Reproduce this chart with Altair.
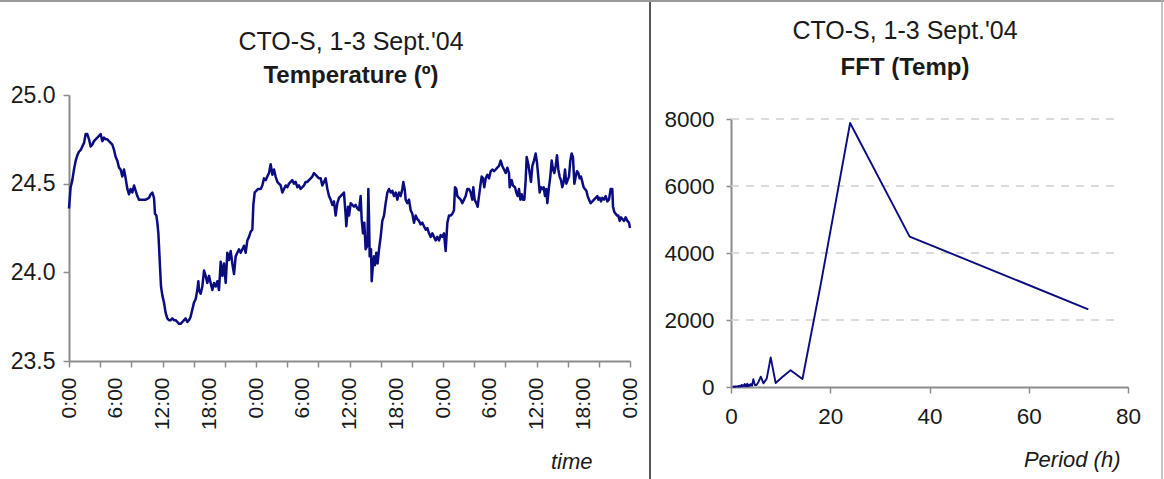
import altair as alt
import pandas as pd

# ---------------- data ----------------
# Temperature record, CTO-S 1-3 Sept 2004: (hours since 0:00 on day 1, temperature degC)
temperature_series = [
    (0.00, 24.36), (0.21, 24.48), (0.43, 24.52), (0.64, 24.58), (0.86, 24.63), (1.07, 24.66),
    (1.28, 24.68), (1.50, 24.69), (1.71, 24.71), (1.93, 24.73), (2.14, 24.78), (2.35, 24.78),
    (2.57, 24.75), (2.78, 24.71), (2.99, 24.72), (3.21, 24.74), (3.42, 24.75), (3.64, 24.76),
    (3.85, 24.77), (4.06, 24.78), (4.28, 24.74), (4.49, 24.76), (4.71, 24.75), (4.92, 24.75),
    (5.13, 24.74), (5.35, 24.73), (5.56, 24.72), (5.78, 24.69), (5.99, 24.65), (6.20, 24.63),
    (6.42, 24.59), (6.63, 24.58), (6.84, 24.54), (7.06, 24.58), (7.27, 24.53), (7.49, 24.47),
    (7.70, 24.44), (7.91, 24.47), (8.13, 24.45), (8.34, 24.49), (8.56, 24.46), (8.77, 24.43),
    (8.98, 24.41), (9.41, 24.41), (9.84, 24.41), (10.27, 24.42), (10.48, 24.44), (10.70, 24.45),
    (10.91, 24.42), (11.04, 24.33), (11.21, 24.32), (11.34, 24.28), (11.47, 24.22), (11.55, 24.15),
    (11.68, 24.03), (11.81, 23.92), (11.98, 23.87), (12.19, 23.83), (12.41, 23.77), (12.62, 23.74),
    (12.83, 23.73), (13.05, 23.73), (13.26, 23.74), (13.48, 23.73), (13.69, 23.73), (13.90, 23.72),
    (14.12, 23.71), (14.33, 23.71), (14.55, 23.72), (14.76, 23.73), (14.97, 23.74), (15.19, 23.72),
    (15.40, 23.73), (15.61, 23.75), (15.83, 23.79), (16.04, 23.83), (16.26, 23.85), (16.47, 23.90),
    (16.60, 23.95), (16.68, 23.90), (16.90, 23.88), (17.11, 23.92), (17.33, 24.01), (17.54, 23.98),
    (17.75, 23.94), (17.97, 23.98), (18.18, 23.94), (18.40, 23.90), (18.61, 23.94), (18.82, 23.92),
    (19.04, 23.95), (19.25, 23.90), (19.47, 24.06), (19.68, 23.98), (19.89, 24.05), (20.11, 23.94),
    (20.32, 24.11), (20.53, 24.07), (20.75, 24.12), (20.96, 24.05), (21.18, 23.99), (21.39, 24.09),
    (21.60, 24.11), (21.82, 24.13), (22.03, 24.11), (22.25, 24.13), (22.46, 24.15), (22.67, 24.11),
    (22.89, 24.18), (23.10, 24.20), (23.32, 24.23), (23.53, 24.24), (23.66, 24.38), (23.83, 24.45),
    (24.04, 24.46), (24.26, 24.47),
    (24.39, 24.47), (24.60, 24.47), (24.81, 24.49), (25.03, 24.53), (25.24, 24.52), (25.45, 24.54),
    (25.67, 24.56), (25.88, 24.61), (26.10, 24.55), (26.31, 24.58), (26.52, 24.54), (26.74, 24.51),
    (26.95, 24.50), (27.17, 24.49), (27.38, 24.45), (27.59, 24.47), (27.81, 24.49), (28.02, 24.48),
    (28.24, 24.50), (28.45, 24.51), (28.66, 24.52), (28.88, 24.50), (29.09, 24.51), (29.30, 24.48),
    (29.52, 24.49), (29.73, 24.47), (29.95, 24.48), (30.16, 24.49), (30.37, 24.51), (30.59, 24.51),
    (30.80, 24.52), (31.02, 24.53), (31.23, 24.54), (31.44, 24.56), (31.66, 24.55), (31.87, 24.54),
    (32.09, 24.53), (32.30, 24.53), (32.51, 24.49), (32.73, 24.51), (32.94, 24.53), (33.16, 24.47),
    (33.37, 24.43), (33.58, 24.41), (33.80, 24.38), (34.01, 24.40), (34.22, 24.32), (34.44, 24.39),
    (34.65, 24.42), (34.87, 24.43), (35.08, 24.44), (35.29, 24.45), (35.51, 24.32), (35.59, 24.26),
    (35.81, 24.37), (35.94, 24.32), (36.15, 24.39), (36.36, 24.38), (36.58, 24.37), (36.79, 24.38),
    (37.01, 24.36), (37.22, 24.35), (37.43, 24.43), (37.56, 24.30), (37.73, 24.22), (37.90, 24.28),
    (38.07, 24.13), (38.29, 24.15), (38.42, 24.47), (38.50, 24.32), (38.59, 24.09), (38.76, 24.13),
    (38.85, 23.95), (39.02, 24.05), (39.14, 24.09), (39.27, 24.04), (39.44, 24.11), (39.61, 24.05),
    (39.79, 24.13), (40.00, 24.20), (40.21, 24.29), (40.43, 24.32), (40.64, 24.39), (40.86, 24.45),
    (41.07, 24.47), (41.28, 24.45), (41.50, 24.46), (41.71, 24.43), (41.93, 24.45), (42.14, 24.41),
    (42.35, 24.45), (42.57, 24.43), (42.78, 24.47), (42.91, 24.51), (43.08, 24.47), (43.21, 24.41),
    (43.42, 24.39), (43.64, 24.41), (43.85, 24.35), (44.06, 24.33), (44.28, 24.28), (44.49, 24.32),
    (44.71, 24.30), (44.92, 24.29), (45.13, 24.27), (45.35, 24.28), (45.56, 24.26), (45.78, 24.24),
    (45.99, 24.25), (46.20, 24.22), (46.42, 24.20), (46.63, 24.22), (46.84, 24.20), (47.06, 24.18),
    (47.27, 24.20), (47.49, 24.18), (47.70, 24.21), (47.91, 24.20), (48.13, 24.22), (48.34, 24.12),
    (48.56, 24.28), (48.77, 24.32),
    (48.98, 24.32), (49.20, 24.33), (49.41, 24.35), (49.54, 24.48), (49.71, 24.47), (49.84, 24.43),
    (50.05, 24.42), (50.27, 24.41), (50.48, 24.39), (50.70, 24.41), (50.91, 24.43), (51.12, 24.47),
    (51.34, 24.47), (51.55, 24.45), (51.76, 24.41), (51.89, 24.48), (52.06, 24.41), (52.28, 24.39),
    (52.45, 24.37), (52.62, 24.43), (52.83, 24.50), (52.96, 24.54), (53.13, 24.53), (53.30, 24.48),
    (53.48, 24.53), (53.69, 24.55), (53.90, 24.53), (54.12, 24.57), (54.33, 24.58), (54.55, 24.57),
    (54.76, 24.58), (54.97, 24.59), (55.19, 24.60), (55.40, 24.63), (55.61, 24.60), (55.83, 24.58),
    (56.04, 24.56), (56.26, 24.59), (56.47, 24.56), (56.56, 24.48), (56.81, 24.52), (56.98, 24.49),
    (57.24, 24.48), (57.41, 24.45), (57.58, 24.43), (57.75, 24.47), (57.93, 24.41), (58.10, 24.44),
    (58.27, 24.41), (58.44, 24.41), (58.61, 24.52), (58.74, 24.65), (58.95, 24.61), (59.12, 24.56),
    (59.29, 24.51), (59.47, 24.60), (59.68, 24.63), (59.89, 24.67), (60.06, 24.62), (60.23, 24.54),
    (60.41, 24.45), (60.58, 24.48), (60.75, 24.47), (60.92, 24.48), (61.09, 24.43), (61.26, 24.47),
    (61.39, 24.39), (61.60, 24.48), (61.77, 24.54), (61.95, 24.63), (62.12, 24.58), (62.29, 24.56),
    (62.46, 24.60), (62.63, 24.66), (62.80, 24.58), (62.97, 24.54), (63.14, 24.52), (63.31, 24.48),
    (63.49, 24.51), (63.66, 24.58), (63.83, 24.50), (64.00, 24.52), (64.17, 24.54), (64.34, 24.63),
    (64.51, 24.67), (64.68, 24.65), (64.86, 24.50), (65.03, 24.54), (65.20, 24.57), (65.37, 24.56),
    (65.54, 24.53), (65.71, 24.54), (65.88, 24.51), (66.05, 24.48), (66.22, 24.47), (66.40, 24.46),
    (66.57, 24.43), (66.74, 24.41), (66.95, 24.39), (67.17, 24.40), (67.38, 24.41), (67.59, 24.42),
    (67.81, 24.43), (67.93, 24.41), (68.11, 24.42), (68.28, 24.40), (68.45, 24.42), (68.66, 24.41),
    (68.88, 24.43), (69.09, 24.40), (69.30, 24.41), (69.52, 24.47), (69.73, 24.47), (69.82, 24.37),
    (69.99, 24.34), (70.16, 24.33), (70.33, 24.32), (70.50, 24.32), (70.68, 24.29), (70.85, 24.31),
    (71.02, 24.30), (71.23, 24.29), (71.44, 24.31), (71.66, 24.29), (71.87, 24.28), (72.00, 24.25),
]
temp_hours = [h for h, _ in temperature_series]
temp_values = [t for _, t in temperature_series]

# FFT of the temperature record: period (h) and amplitude
fft_period = [72, 36, 24, 18, 14.4, 12, 10.29, 9, 8, 7.2, 6.55, 6, 5.54, 5.14, 4.8, 4.5,
              4.24, 4.0, 3.79, 3.6, 3.43, 3.27, 3.13, 3.0, 2.88, 2.77, 2.57, 2.4, 2.25,
              2.12, 2.0, 1.8, 1.6, 1.44, 1.2, 1.0, 0.8, 0.6, 0.4, 0.33]
fft_amp = [2320, 4490, 7880, 3000, 240, 500, 290, 120, 885, 250, 110, 310, 150, 60, 60, 230,
           40, 90, 30, 70, 20, 100, 30, 60, 20, 90, 30, 50, 20,
           60, 15, 40, 10, 30, 10, 20, 5, 15, 5, 0]

# axis tick / label values
time_tick_values = [0, 4, 6, 8, 12, 16, 18, 20, 24, 28, 30, 32, 36, 40, 42, 44, 48,
                    52, 54, 56, 60, 64, 66, 68, 72]
temp_tick_values = [23.5, 24.0, 24.5, 25.0]
fft_y_tick_values = [0, 2000, 4000, 6000, 8000]
fft_x_tick_values = [0, 20, 40, 60, 80]
fft_grid_levels = [2000, 4000, 6000, 8000]

# ---------------- style ----------------
FONT = "Liberation Sans"
NAVY = "#0b0b82"
AXIS_GRAY = "#8c8c8c"
TEXT = "#1a1a1a"

temp_df = pd.DataFrame({"hour": temp_hours, "temp": temp_values})
fft_df = pd.DataFrame({"period": fft_period, "amp": fft_amp})
grid_df = pd.DataFrame({"level": fft_grid_levels, "p0": [0] * 4, "p1": [78] * 4})

axis_common = dict(
    domainColor=AXIS_GRAY, domainWidth=2, tickColor=AXIS_GRAY, tickWidth=1.5,
    labelFont=FONT, labelColor=TEXT, grid=False, labelOverlap=False, labelFlush=False,
    labelBound=False,
)

# ---------------- left panel: temperature ----------------
x_time = alt.X(
    "hour:Q",
    scale=alt.Scale(domain=[0, 72], range=[69, 630], nice=False, zero=False),
    axis=alt.Axis(
        orient="bottom", offset=-118, values=time_tick_values,
        labelExpr="datum.value % 6 == 0 ? (datum.value % 24) + ':00' : ''",
        labelAngle=270, labelFontSize=21, labelPadding=10, tickSize=6,
        tickOpacity={"condition": {"test": "datum.value % 4 == 0", "value": 1}, "value": 0},
        title="time", titleFont=FONT, titleFontSize=22, titleFontStyle="italic",
        titleFontWeight="normal", titleColor=TEXT, titleX=592, titleY=107,
        titleAlign="right", titleBaseline="alphabetic", titleAngle=0,
        **axis_common,
    ),
)
y_temp = alt.Y(
    "temp:Q",
    scale=alt.Scale(domain=[23.5, 25.0], range=[361, 95], nice=False, zero=False),
    axis=alt.Axis(
        orient="left", offset=-69, values=temp_tick_values, format=".1f",
        labelFontSize=23, labelPadding=8, tickSize=6, title=None,
        **axis_common,
    ),
)
temp_line = alt.Chart(temp_df).mark_line(color=NAVY, strokeWidth=2.5, strokeJoin="round").encode(
    x=x_time, y=y_temp
)

left_title1 = alt.Chart().mark_text(
    text="CTO-S, 1-3 Sept.'04", font=FONT, fontSize=25, color=TEXT, align="center",
    baseline="alphabetic"
).encode(x=alt.value(351), y=alt.value(50))
left_title2 = alt.Chart().mark_text(
    text="Temperature (º)", font=FONT, fontSize=24, fontWeight="bold", color=TEXT,
    align="center", baseline="alphabetic"
).encode(x=alt.value(351), y=alt.value(83))

left_panel = alt.layer(temp_line)

# ---------------- right panel: FFT ----------------
x_period_scale = alt.Scale(domain=[0, 80], range=[731, 1128], nice=False, zero=False)
y_amp_scale = alt.Scale(domain=[0, 8000], range=[387, 119], nice=False, zero=False)

grid = alt.Chart(grid_df).mark_rule(color="#cfcfcf", strokeWidth=1.3, strokeDash=[8, 7]).encode(
    x=alt.X("p0:Q", scale=x_period_scale),
    x2="p1:Q",
    y=alt.Y("level:Q", scale=y_amp_scale),
)
fft_line = alt.Chart(fft_df).mark_line(color=NAVY, strokeWidth=1.9, strokeJoin="round").encode(
    x=alt.X(
        "period:Q", scale=x_period_scale,
        axis=alt.Axis(
            orient="bottom", offset=-92, values=fft_x_tick_values, labelFontSize=22.5,
            labelPadding=12, tickSize=6,
            title="Period (h)", titleFont=FONT, titleFontSize=22, titleFontStyle="italic",
            titleFontWeight="normal", titleColor=TEXT, titleX=1120, titleY=79,
            titleAlign="right", titleBaseline="alphabetic",
            **axis_common,
        ),
    ),
    y=alt.Y(
        "amp:Q", scale=y_amp_scale,
        axis=alt.Axis(
            orient="left", offset=-731, values=fft_y_tick_values, format="d",
            labelFontSize=22.5, labelPadding=12, tickSize=5, title=None,
            **axis_common,
        ),
    ),
)
right_title1 = alt.Chart().mark_text(
    text="CTO-S, 1-3 Sept.'04", font=FONT, fontSize=25, color=TEXT, align="center",
    baseline="alphabetic"
).encode(x=alt.value(905), y=alt.value(39))
right_title2 = alt.Chart().mark_text(
    text="FFT (Temp)", font=FONT, fontSize=24, fontWeight="bold", color=TEXT,
    align="center", baseline="alphabetic"
).encode(x=alt.value(905), y=alt.value(75))

right_panel = alt.layer(grid, fft_line)

# ---------------- panel frames ----------------
divider = alt.Chart().mark_rule(color="#202020", strokeWidth=1.5).encode(
    x=alt.value(650), y=alt.value(0), y2=alt.value(479)
)
top_border = alt.Chart().mark_rule(color="#9a9a9a", strokeWidth=2).encode(
    x=alt.value(0), x2=alt.value(1164), y=alt.value(1)
)
right_border = alt.Chart().mark_rule(color="#b0b0b0", strokeWidth=1.5).encode(
    x=alt.value(1162), y=alt.value(0), y2=alt.value(479)
)

chart = (
    alt.layer(
        left_panel, right_panel,
        left_title1, left_title2, right_title1, right_title2,
        divider, top_border, right_border,
    )
    .resolve_scale(x="independent", y="independent")
    .resolve_axis(x="independent", y="independent")
    .properties(width=1164, height=479, autosize=alt.AutoSizeParams(type="none"), padding=0,
                background="white")
    .configure_view(stroke=None)
)

chart.save("out.html", embed_options={"renderer": "svg", "actions": False})
